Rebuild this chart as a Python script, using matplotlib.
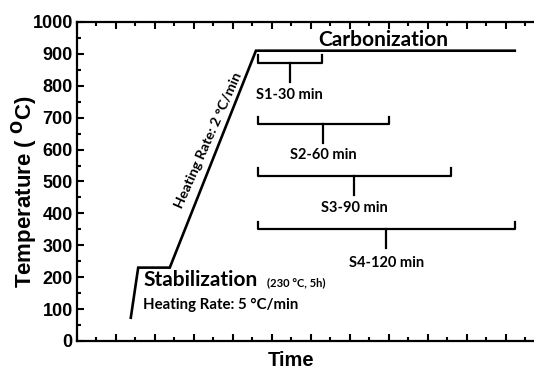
import matplotlib.pyplot as plt
from matplotlib.ticker import MultipleLocator

# heat treatment profile (time in arbitrary units, temperature in C)
profile_time = [1.38, 1.57, 2.38, 4.59, 11.23]
profile_temp = [73, 230, 230, 910, 910]

# carbonization dwell brackets
bracket_labels = ['S1-30 min', 'S2-60 min', 'S3-90 min', 'S4-120 min']
bracket_start = [4.64, 4.64, 4.64, 4.64]
bracket_end = [6.28, 8.0, 9.59, 11.23]
bracket_top = [897, 702, 542, 373]
bracket_mid = [871, 680, 517, 351]
bracket_stem = [812, 621, 458, 292]
label_temp = [771, 583, 417, 245]

temp_ticks = [0, 100, 200, 300, 400, 500, 600, 700, 800, 900, 1000]

ann_font = 'Lato'
tick_font = 'Liberation Sans'

fig = plt.figure(figsize=(5.34, 3.69), dpi=100)
ax = fig.add_axes([0.1442, 0.0759, 0.876, 0.8645])

ax.plot(profile_time, profile_temp, color='black', lw=1.9, solid_joinstyle='miter')

for lab, x0, x1, yt, ym, ys, yl in zip(bracket_labels, bracket_start, bracket_end,
                                        bracket_top, bracket_mid, bracket_stem, label_temp):
    xc = (x0 + x1) / 2
    ax.plot([x0, x0, x1, x1], [yt, ym, ym, yt], color='black', lw=1.6)
    ax.plot([xc, xc], [ym, ys], color='black', lw=1.6)
    ax.text(xc, yl, lab, ha='center', va='center', fontsize=10.5,
            fontweight='bold', family=ann_font)

ax.text(7.85, 942, 'Carbonization', ha='center', va='center', fontsize=15,
        fontweight='bold', family=ann_font)
ax.text(1.7, 191, 'Stabilization', ha='left', va='center', fontsize=15,
        fontweight='bold', family=ann_font)
ax.text(4.87, 182, '(230 \u00b0C, 5h)', ha='left', va='center', fontsize=8,
        fontweight='bold', family=ann_font)
ax.text(1.7, 113, 'Heating Rate: 5 \u00b0C/min', ha='left', va='center', fontsize=10.8,
        fontweight='bold', family=ann_font)
ax.text(3.36, 630, 'Heating Rate: 2 \u00b0C/min', ha='center', va='center', fontsize=10.3,
        rotation=66, fontweight='bold', family=ann_font, rotation_mode='anchor')

ax.set_xlim(0, 12)
ax.set_ylim(0, 1000)
ax.xaxis.set_major_locator(MultipleLocator(1))
ax.xaxis.set_minor_locator(MultipleLocator(0.5))
ax.set_yticks(temp_ticks, labels=[str(t) for t in temp_ticks],
              fontsize=13, fontweight='bold', family=tick_font)
ax.yaxis.set_minor_locator(MultipleLocator(50))
ax.tick_params(which='both', direction='in', top=True, right=True, width=1.5)
ax.tick_params(which='major', length=5)
ax.tick_params(which='minor', length=3)
ax.tick_params(axis='x', labelbottom=False)
ax.tick_params(axis='y', pad=3)
for sp in ax.spines.values():
    sp.set_linewidth(1.6)

fig.text(25 / 534, 1 - 192 / 369, 'Temperature ( $\\mathbf{^{O}}$C)', rotation=90,
         ha='center', va='center', fontsize=16, fontweight='bold', family=tick_font)
fig.text(291 / 534, 1 - 360 / 369, 'Time', ha='center', va='center',
         fontsize=14.5, fontweight='bold', family=tick_font)

fig.savefig('out.png', dpi=100)
